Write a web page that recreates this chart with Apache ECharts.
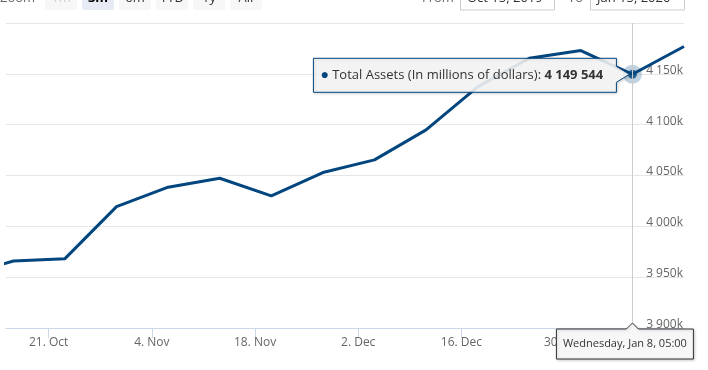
<!DOCTYPE html>
<html><head><meta charset="utf-8">
<script src="https://cdn.jsdelivr.net/npm/echarts@6/dist/echarts.min.js"></script>
<style>html,body{margin:0;padding:0;background:#fff}#c{width:708px;height:370px}</style>
</head><body><div id="c"></div>
<script>
// ---- data ----
const seriesName = 'Total Assets (In millions of dollars)';
const dates = ['2019-10-09','2019-10-16','2019-10-23','2019-10-30','2019-11-06','2019-11-13','2019-11-20',
  '2019-11-27','2019-12-04','2019-12-11','2019-12-18','2019-12-25','2020-01-01','2020-01-08','2020-01-15'];
const values = [3951000, 3965900, 3968200, 4019400, 4038500, 4047300, 4029900,
  4052900, 4065400, 4094900, 4137200, 4165300, 4172900, 4149544, 4176900];
const tickDates = ['2019-10-21','2019-11-04','2019-11-18','2019-12-02','2019-12-16','2019-12-30'];
const tickLabels = ['21. Oct','4. Nov','18. Nov','2. Dec','16. Dec','30. Dec'];
const yMin = 3900000, yMax = 4200000, yStep = 50000;
const rangeButtons = ['1m','3m','6m','YTD','1y','All'];
const selectedButton = '3m';
const disabledButton = '1m';
const rangeFrom = 'Oct 15, 2019';
const rangeTo = 'Jan 15, 2020';
const viewStart = '2019-10-15';
const viewEnd = '2020-01-15';
const hoverIndex = 13;

// ---- helpers ----
const FONT = '"Open Sans", sans-serif';
const COLOR = '#03467f';
const ts = (d, h) => { const [Y, M, D] = d.split('-').map(Number); return Date.UTC(Y, M - 1, D, h || 0); };
const times = dates.map(d => ts(d, 5));
const tickTimes = tickDates.map(d => ts(d, 0));
const fmtNum = v => String(Math.round(v)).replace(/\B(?=(\d{3})+(?!\d))/g, ' ');
const WD = ['Sunday','Monday','Tuesday','Wednesday','Thursday','Friday','Saturday'];
const MO = ['Jan','Feb','Mar','Apr','May','Jun','Jul','Aug','Sep','Oct','Nov','Dec'];
const fmtHeader = t => { const d = new Date(t); const p = n => (n < 10 ? '0' : '') + n;
  return WD[d.getUTCDay()] + ', ' + MO[d.getUTCMonth()] + ' ' + d.getUTCDate() + ', ' + p(d.getUTCHours()) + ':' + p(d.getUTCMinutes()); };

const chart = echarts.init(document.getElementById('c'), null, {renderer: 'canvas'});
const hoverPt = [times[hoverIndex], values[hoverIndex]];

chart.setOption({
  animation: false,
  textStyle: {fontFamily: FONT},
  grid: {left: 6, right: 24, top: 23, bottom: 42, containLabel: false},
  xAxis: {
    type: 'value', min: ts(viewStart, 5), max: ts(viewEnd, 5),
    axisLine: {show: true, lineStyle: {color: '#ccd6eb', width: 1}},
    axisTick: {show: true, length: 10, customValues: tickTimes, lineStyle: {color: '#ccd6eb'}},
    axisLabel: {customValues: tickTimes, formatter: v => tickLabels[tickTimes.indexOf(v)] || '',
      color: '#666666', fontSize: 12, fontFamily: FONT, margin: 9},
    splitLine: {show: false}
  },
  yAxis: {
    type: 'value', position: 'right', min: yMin, max: yMax, interval: yStep,
    axisLine: {show: false}, axisTick: {show: false},
    splitLine: {lineStyle: {color: '#e6e6e6', width: 1}},
    axisLabel: {inside: true, showMaxLabel: false, margin: 1, align: 'right', verticalAlign: 'bottom',
      lineHeight: 7, color: '#666666', fontSize: 12, fontFamily: FONT,
      formatter: v => fmtNum(v / 1000) + 'k'}
  },
  series: [
    {type: 'line', name: seriesName, data: times.map((t, i) => [t, values[i]]),
     showSymbol: false, symbol: 'none', clip: true,
     lineStyle: {color: COLOR, width: 3}, itemStyle: {color: COLOR},
     markLine: {silent: true, symbol: 'none', label: {show: false},
       lineStyle: {color: '#cccccc', width: 1, type: 'solid'},
       data: [{xAxis: hoverPt[0]}]}},
    {type: 'scatter', silent: true, data: [hoverPt], symbolSize: 19, z: 3,
     itemStyle: {color: COLOR, opacity: 0.25}},
    {type: 'scatter', silent: true, data: [hoverPt], symbolSize: 9, z: 4,
     itemStyle: {color: COLOR}}
  ]
});

// ---- overlays: tooltip, x header, range selector ----
const p = chart.convertToPixel({xAxisIndex: 0, yAxisIndex: 0}, hoverPt);
const ax = p[0], ay = p[1];
const boxR = ax - 16, boxW = 303, boxL = boxR - boxW, boxT = ay - 16, boxB = ay + 18;
const gridBottom = 370 - 42;
const hW = 137, hL = ax - 76, hT = gridBottom + 1, hB = hT + 30;
const g = [];
// main tooltip callout
g.push({type: 'polygon', z: 100, shape: {points: [
    [boxL, boxT], [boxR, boxT], [boxR, ay - 8], [ax - 3, ay], [boxR, ay + 8], [boxR, boxB], [boxL, boxB]]},
  style: {fill: 'rgba(247,247,247,0.88)', stroke: COLOR, lineWidth: 1,
    shadowBlur: 3, shadowColor: 'rgba(0,0,0,0.18)', shadowOffsetX: 1, shadowOffsetY: 1}});
g.push({type: 'text', z: 101, x: boxL + 7, y: ay + 1, style: {
  text: '{d|●} {n|' + seriesName + ': }{b|' + fmtNum(values[hoverIndex]) + '}',
  verticalAlign: 'middle', align: 'left',
  rich: {d: {fill: COLOR, fontSize: 14, fontFamily: FONT},
         n: {fill: '#333333', fontSize: 13, fontFamily: FONT},
         b: {fill: '#333333', fontSize: 13, fontWeight: 'bold', fontFamily: FONT}}}});
// x header label
g.push({type: 'polygon', z: 100, shape: {points: [
    [hL, hT], [ax - 6, hT], [ax, hT - 6], [ax + 6, hT], [hL + hW, hT], [hL + hW, hB], [hL, hB]]},
  style: {fill: '#f7f7f7', stroke: '#333333', lineWidth: 1,
    shadowBlur: 3, shadowColor: 'rgba(0,0,0,0.2)', shadowOffsetX: 1, shadowOffsetY: 1}});
g.push({type: 'text', z: 101, x: hL + hW / 2, y: (hT + hB) / 2, style: {
  text: fmtHeader(hoverPt[0]), align: 'center', verticalAlign: 'middle',
  fill: '#333333', fontSize: 11, fontFamily: FONT}});
// range selector (cut off at top)
g.push({type: 'text', x: 0, y: -2, style: {text: 'Zoom', fill: '#666666', fontSize: 13, fontFamily: FONT, verticalAlign: 'middle'}});
const btnX = [45, 82, 119, 156, 193, 230];
rangeButtons.forEach((b, i) => {
  const sel = b === selectedButton, dis = b === disabledButton;
  g.push({type: 'rect', shape: {x: btnX[i], y: -10, width: 32, height: 20, r: 2},
    style: {fill: sel ? '#e6ebf5' : '#f7f7f7'}});
  g.push({type: 'text', x: btnX[i] + 16, y: -2, style: {text: b, align: 'center', verticalAlign: 'middle',
    fill: dis ? '#cccccc' : (sel ? '#000000' : '#333333'), fontWeight: sel ? 'bold' : 'normal',
    fontSize: 13, fontFamily: FONT}});
});
g.push({type: 'text', x: 422, y: -2, style: {text: 'From', fill: '#666666', fontSize: 13, fontFamily: FONT, verticalAlign: 'middle'}});
g.push({type: 'rect', shape: {x: 460.5, y: -14, width: 94, height: 24}, style: {fill: '#fff', stroke: '#cccccc', lineWidth: 1}});
g.push({type: 'text', x: 467, y: -2, style: {text: rangeFrom, fill: '#333333', fontSize: 13, fontFamily: FONT, verticalAlign: 'middle'}});
g.push({type: 'text', x: 568, y: -2, style: {text: 'To', fill: '#666666', fontSize: 13, fontFamily: FONT, verticalAlign: 'middle'}});
g.push({type: 'rect', shape: {x: 590.5, y: -14, width: 94, height: 24}, style: {fill: '#fff', stroke: '#cccccc', lineWidth: 1}});
g.push({type: 'text', x: 597, y: -2, style: {text: rangeTo, fill: '#333333', fontSize: 13, fontFamily: FONT, verticalAlign: 'middle'}});
chart.setOption({graphic: {elements: g}});
</script></body></html>
